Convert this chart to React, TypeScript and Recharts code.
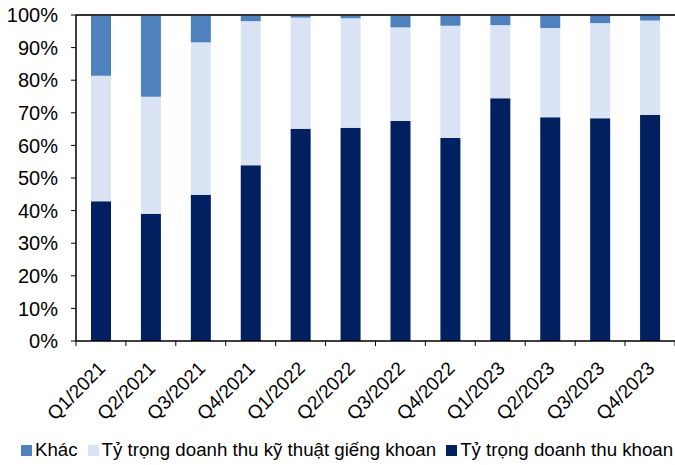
import { BarChart, Bar, XAxis, YAxis, Legend, ReferenceLine } from 'recharts';

const quarters = [
  'Q1/2021', 'Q2/2021', 'Q3/2021', 'Q4/2021',
  'Q1/2022', 'Q2/2022', 'Q3/2022', 'Q4/2022',
  'Q1/2023', 'Q2/2023', 'Q3/2023', 'Q4/2023',
];
// Tỷ trọng doanh thu khoan (%)
const drilling = [42.9, 39.0, 44.9, 53.9, 65.1, 65.4, 67.5, 62.3, 74.5, 68.6, 68.3, 69.3];
// Tỷ trọng doanh thu kỹ thuật giếng khoan (%)
const wellTech = [38.5, 35.9, 46.7, 44.2, 34.1, 33.6, 28.7, 34.4, 22.4, 27.4, 29.2, 29.0];
// Khác (%)
const other = [18.6, 25.1, 8.4, 1.9, 0.8, 1.0, 3.8, 3.3, 3.1, 4.0, 2.5, 1.7];
const yTicks = [0, 10, 20, 30, 40, 50, 60, 70, 80, 90, 100];

const DARK = '#002060';
const LIGHT = '#dae3f3';
const MID = '#4f81bd';
const FONT = '"Liberation Sans", Arial, sans-serif';

const data = quarters.map((q, i) => ({
  q,
  drilling: drilling[i],
  wellTech: wellTech[i],
  other: other[i],
}));

const legendItems = [
  { label: 'Khác', color: MID },
  { label: 'Tỷ trọng doanh thu kỹ thuật giếng khoan', color: LIGHT },
  { label: 'Tỷ trọng doanh thu khoan', color: DARK },
];

function XTick(props: any) {
  const { x, y, payload, index } = props;
  const half = 25;
  const ax = x - 4;
  const ay = y + 19;
  return (
    <g>
      <line x1={x - half} y1={y} x2={x - half} y2={y + 5} stroke="#000" />
      {index === quarters.length - 1 && (
        <line x1={x + half} y1={y} x2={x + half} y2={y + 5} stroke="#000" />
      )}
      <text
        x={ax}
        y={ay}
        textAnchor="end"
        dominantBaseline="hanging"
        fontSize={19}
        fontFamily={FONT}
        fill="#000"
        transform={`rotate(-45, ${ax}, ${ay})`}
      >
        {payload.value}
      </text>
    </g>
  );
}

function LegendContent() {
  return (
    <div
      style={{
        display: 'flex',
        alignItems: 'center',
        paddingLeft: 21,
        paddingTop: 14,
        fontFamily: FONT,
        fontSize: 18.7,
        color: '#000',
        whiteSpace: 'nowrap',
      }}
    >
      {legendItems.map((it) => (
        <span key={it.label} style={{ display: 'flex', alignItems: 'center', marginRight: 10 }}>
          <span style={{ width: 11, height: 11, background: it.color, marginRight: 3, display: 'inline-block' }} />
          {it.label}
        </span>
      ))}
    </div>
  );
}

export default function App() {
  return (
    <div style={{ position: 'absolute', left: 0, top: 0, background: '#fff' }}>
      <BarChart
        width={675}
        height={465}
        data={data}
        margin={{ top: 15, right: 0, bottom: 0, left: 0 }}
        barCategoryGap={0}
      >
        <XAxis
          dataKey="q"
          interval={0}
          tickSize={0}
          tickMargin={0}
          tick={<XTick />}
          axisLine={{ stroke: '#000', strokeWidth: 1.5 }}
          height={84}
        />
        <YAxis
          domain={[0, 100]}
          ticks={yTicks}
          tickFormatter={(v: number) => `${v}%`}
          width={76}
          tickSize={5}
          tickMargin={13}
          tick={{ fontSize: 20, fontFamily: FONT, fill: '#000' }}
          tickLine={{ stroke: '#000' }}
          axisLine={{ stroke: '#000', strokeWidth: 1.5 }}
          interval={0}
        />
        <Legend verticalAlign="bottom" height={40} content={<LegendContent />} />
        <Bar dataKey="drilling" stackId="a" fill={DARK} barSize={20} isAnimationActive={false} />
        <Bar dataKey="wellTech" stackId="a" fill={LIGHT} barSize={20} isAnimationActive={false} />
        <Bar dataKey="other" stackId="a" fill={MID} barSize={20} isAnimationActive={false} />
        <ReferenceLine y={100} stroke="#333" strokeWidth={2} />
      </BarChart>
    </div>
  );
}
